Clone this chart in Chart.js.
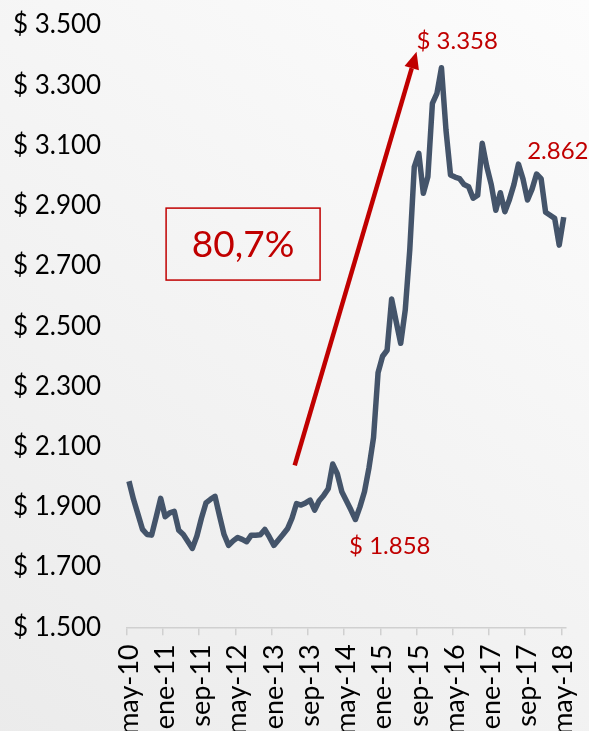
<!DOCTYPE html>
<html>
<head>
<meta charset="utf-8">
<script src="https://cdn.jsdelivr.net/npm/chart.js@4.4.0/dist/chart.umd.min.js"></script>
<style>
html, body { margin: 0; padding: 0; overflow: hidden; background: #f2f2f2; }
canvas { display: block; }
</style>
</head>
<body>
<canvas id="myChart" width="589" height="745"></canvas>
<script>

// categories: may-10 ... may-18, one per month
const monthNames = ['ene', 'feb', 'mar', 'abr', 'may', 'jun', 'jul', 'ago', 'sep', 'oct', 'nov', 'dic'];
const firstYear = 2010, firstMonth = 4, lastYear = 2018, lastMonth = 4;

// monthly values
const values = [
    1985, 1925, 1875, 1825, 1808, 1806, 1866, 1928, 1867, 1880,
    1885, 1822, 1808, 1785, 1762, 1803, 1862, 1913, 1925, 1935,
    1870, 1808, 1772, 1787, 1798, 1792, 1784, 1806, 1806, 1807,
    1825, 1800, 1772, 1790, 1808, 1827, 1862, 1911, 1906, 1913,
    1922, 1889, 1920, 1938, 1960, 2042, 2010, 1950, 1920, 1890,
    1858, 1900, 1950, 2030, 2130, 2345, 2400, 2420, 2590, 2515,
    2443, 2553, 2753, 3029, 3074, 2941, 2996, 3240, 3273, 3358,
    3151, 3002, 2995, 2990, 2970, 2963, 2925, 2935, 3107, 3030,
    2970, 2885, 2943, 2880, 2920, 2970, 3038, 2989, 2919, 2955,
    3005, 2990, 2878, 2868, 2858, 2769, 2862
];

// axis
const yMin = 1500, yMax = 3500, yStep = 200;
const labelEvery = 8;

// annotations, in data units (category index, value)
const arrowFrom = [36.6, 2038];
const arrowTo = [63.5, 3411];
const notes = [
    { text: '$ 3.358', at: [63.5, 3445], align: 'left' },
    { text: '2.862', at: [94.7, 3081], align: 'center' },
    { text: '$ 1.858', at: [57.6, 1769], align: 'center' }
];
const boxText = '80,7%';
const boxFrom = [8.2, 2892];
const boxTo = [42.2, 2653];

const labels = [];
for (let y = firstYear, m = firstMonth; y < lastYear || (y === lastYear && m <= lastMonth); ) {
    labels.push(monthNames[m] + '-' + String(y).slice(2));
    m++;
    if (m > 11) { m = 0; y++; }
}

function money(v) {
    const th = Math.floor(v / 1000);
    const rest = String(v % 1000).padStart(3, '0');
    return '$ ' + th + '.' + rest;
}

const red = '#c00000';

const background = {
    id: 'background',
    beforeDraw(chart) {
        const c = chart.ctx;
        const g = c.createLinearGradient(chart.width, 0, 0, chart.height);
        g.addColorStop(0, '#fcfcfc');
        g.addColorStop(1, '#ebebeb');
        c.save();
        c.fillStyle = g;
        c.fillRect(0, 0, chart.width, chart.height);
        c.restore();
    }
};

const annotations = {
    id: 'annotations',
    afterDatasetsDraw(chart) {
        const c = chart.ctx;
        const xs = chart.scales.x, ys = chart.scales.y;
        const px = p => [xs.getPixelForValue(p[0]), ys.getPixelForValue(p[1])];

        // arrow
        const a = px(arrowFrom), b = px(arrowTo);
        const ang = Math.atan2(b[1] - a[1], b[0] - a[0]);
        const headLen = 17, headW = 7.5;
        const bx = b[0] - headLen * Math.cos(ang), by = b[1] - headLen * Math.sin(ang);
        c.save();
        c.strokeStyle = red;
        c.fillStyle = red;
        c.lineWidth = 4.5;
        c.beginPath();
        c.moveTo(a[0], a[1]);
        c.lineTo(bx, by);
        c.stroke();
        c.beginPath();
        c.moveTo(b[0], b[1]);
        c.lineTo(bx + headW * Math.sin(ang), by - headW * Math.cos(ang));
        c.lineTo(bx - headW * Math.sin(ang), by + headW * Math.cos(ang));
        c.closePath();
        c.fill();

        // value notes
        c.font = '24px Lato';
        c.textBaseline = 'middle';
        notes.forEach(n => {
            const p = px(n.at);
            c.textAlign = n.align;
            c.fillText(n.text, p[0], p[1]);
        });

        // boxed percentage
        const p1 = px(boxFrom), p2 = px(boxTo);
        c.lineWidth = 1.5;
        c.strokeRect(p1[0], p1[1], p2[0] - p1[0], p2[1] - p1[1]);
        c.font = '37px Lato';
        c.textAlign = 'center';
        c.fillText(boxText, (p1[0] + p2[0]) / 2, (p1[1] + p2[1]) / 2 + 1);
        c.restore();
    }
};

const ctx = document.getElementById('myChart');

const myChart = new Chart(ctx, {
    type: 'line',
    data: {
        labels: labels,
        datasets: [{
            data: values,
            borderColor: '#44546a',
            borderWidth: 5.5,
            borderJoinStyle: 'round',
            pointRadius: 0,
            tension: 0,
            fill: false
        }]
    },
    options: {
        responsive: false,
        animation: false,
        devicePixelRatio: 1,
        layout: {
            padding: { top: 25, left: 13, right: 23, bottom: 0 }
        },
        plugins: {
            legend: { display: false },
            tooltip: { enabled: false }
        },
        scales: {
            x: {
                offset: true,
                afterFit: function (scale) {
                    scale.height = 117.7;
                    scale.paddingLeft = 0;
                    scale.paddingRight = 0;
                },
                border: { display: true, color: '#d0d0d0', width: 1.5 },
                grid: {
                    offset: true,
                    drawOnChartArea: false,
                    drawTicks: true,
                    tickLength: 8,
                    lineWidth: 1.5,
                    color: function (c) { return c.index % labelEvery === 0 ? '#d0d0d0' : 'rgba(0,0,0,0)'; }
                },
                ticks: {
                    autoSkip: false,
                    minRotation: 90,
                    maxRotation: 90,
                    padding: 9,
                    color: '#000',
                    font: { family: 'Lato', size: 27 },
                    callback: function (v, i) { return i % labelEvery === 0 ? labels[i] : ''; }
                }
            },
            y: {
                min: yMin,
                max: yMax,
                afterFit: function (scale) {
                    scale.width = 113.7;
                    scale.paddingTop = 0;
                    scale.paddingBottom = 0;
                },
                border: { display: false },
                grid: { display: false },
                ticks: {
                    stepSize: yStep,
                    crossAlign: 'far',
                    color: '#000',
                    font: { family: 'Lato', size: 26 },
                    callback: function (v) { return money(v); }
                }
            }
        }
    },
    plugins: [background, annotations]
});

myChart.update();
</script>
</body>
</html>
